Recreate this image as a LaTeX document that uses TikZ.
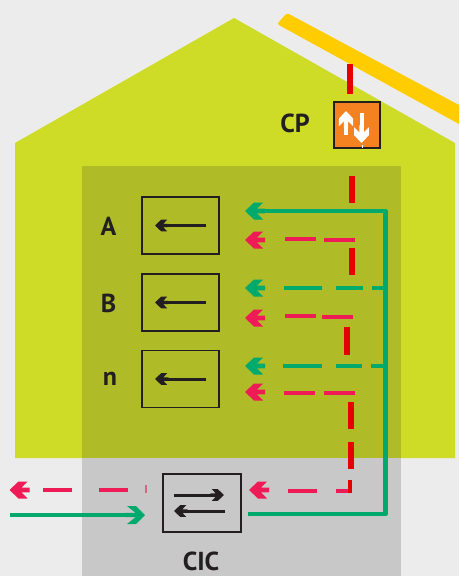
\documentclass[tikz,border=0pt]{standalone}
\usepackage{fontspec}
\setmainfont{PT Sans}
\definecolor{bgc}{HTML}{ECECEC}
\definecolor{housec}{HTML}{CEDC27}
\definecolor{olivec}{HTML}{B0BC27}
\definecolor{grayc}{HTML}{C8C8C8}
\definecolor{greenc}{HTML}{00A96C}
\definecolor{pinkc}{HTML}{EE1B57}
\definecolor{redc}{HTML}{E60000}
\definecolor{yellowc}{HTML}{FFCC00}
\definecolor{orangec}{HTML}{F58220}
\definecolor{inkc}{HTML}{231F20}
\tikzset{
  x=1pt,y=-1pt,
  unitbox/.style={draw=inkc,line width=1.3pt,inner sep=0pt,minimum width=77pt,minimum height=57pt},
  lbl/.style={text=inkc,font=\fontsize{26}{28}\selectfont\bfseries,inner sep=0pt},
  inkline/.style={draw=inkc,line width=3pt},
  whiteline/.style={draw=white,line width=4pt},
  greenline/.style={draw=greenc,line width=4.4pt},
  greendash/.style={draw=greenc,line width=4.8pt},
  pinkdash/.style={draw=pinkc,line width=4pt},
  reddash/.style={draw=redc,line width=6pt},
  pics/chev/.style={code={\fill[#1] (0,0) -- (9,-8.5) -- (18,-8.5) -- (12,-2.4) -- (20,-2.4) -- (20,2.4) -- (12,2.4) -- (18,8.5) -- (9,8.5) -- cycle;}},
  pics/barb/.style={code={\fill[#1] (0,0) -- (9,-9) -- (18,-9) -- (9.5,-2.2) -- (20,-2.2) -- (20,2.2) -- (9.5,2.2) -- (18,9) -- (9,9) -- cycle;}},
}
\newcommand\seg[4]{\coordinate (#2a) at (#3); \coordinate (#2b) at (#4); \draw[#1] (#2a) -- (#2b);}
\begin{document}
\begin{tikzpicture}
\useasboundingbox (0,0) rectangle (459,576);
% grounds
\fill[bgc] (0,0) rectangle (459,576);
\fill[housec] (15,143) -- (234,18) -- (455,143) -- (455,458) -- (15,458) -- cycle;
\fill[olivec] (82,166) rectangle (401,458);
\fill[grayc] (82,458) rectangle (401,576);
% solar bar
\fill[yellowc] (459,124) [rounded corners=2.5pt] -- (277,24) -- (287,13) [sharp corners] -- (459,105) -- cycle;
% nodes
\node[draw=inkc,fill=orangec,line width=1.3pt,inner sep=0pt,minimum size=46pt] (cp) at (357,125) {};
\node[unitbox] (boxA) at (180.5,225.5) {};
\node[unitbox] (boxB) at (180.5,302.5) {};
\node[unitbox] (boxN) at (180.5,379) {};
\node[unitbox,minimum width=78pt,minimum height=58pt] (cic) at (202,503) {};
\node[lbl] (tcp) at (295,123.5) {CP};
\node[lbl] (ta) at (108.5,226) {A};
\node[lbl] (tb) at (108.5,303) {B};
\node[lbl] (tn) at (110,379) {n};
\node[lbl] (tcic) at (201,561) {CIC};
% arrows in boxes
\foreach \b in {boxA,boxB,boxN}{
  \draw[inkline] ([xshift=25.5pt]\b.center) -- ([xshift=-20pt]\b.center);
  \path ([xshift=-25.5pt]\b.center) pic[scale=.68] {chev=inkc};
}
\coordinate (cr) at ([xshift=22pt,yshift=8pt]cic.center);
\coordinate (cl) at ([xshift=-28pt,yshift=8pt]cic.center);
\coordinate (dl) at ([xshift=-28pt,yshift=-8pt]cic.center);
\coordinate (dr) at ([xshift=23pt,yshift=-8pt]cic.center);
\draw[inkline] (cl) -- ([xshift=-5pt]cr);
\path (cr) pic[scale=.68,rotate=180] {chev=inkc};
\draw[inkline] (dr) -- ([xshift=5pt]dl);
\path (dl) pic[scale=.68] {chev=inkc};
% arrows in CP
\coordinate (upt) at (346,111);
\coordinate (upb) at (346,135);
\coordinate (dnt) at (361.5,113);
\coordinate (dnb) at (361.5,143);
\draw[whiteline] (upb) -- (346,118);
\path (upt) pic[scale=.85,rotate=-90] {chev=white};
\draw[whiteline] (dnt) -- (361.5,133);
\path (dnb) pic[scale=.88,rotate=90] {chev=white};
\draw[white,line width=.8pt] (362,145) -- (362,148);
% red segments
\seg{reddash}{ra}{350,64}{350,94}
\seg{reddash}{rb}{352,176}{352,203}
\seg{reddash}{rc}{352,248}{352,275}
\seg{reddash}{rd}{347,327}{347,355}
\seg{reddash}{re}{351,402}{351,429}
\seg{reddash}{rf}{351,442}{351,469}
% pink segments
\seg{pinkdash}{pa}{285,239}{316,239}
\seg{pinkdash}{pb}{324,240}{355,240}
\seg{pinkdash}{pc}{285,316}{316,316}
\seg{pinkdash}{pd}{322,317}{353,317}
\seg{pinkdash}{pe}{284,393}{315,393}
\seg{pinkdash}{pf}{324,393}{355,393}
\seg{pinkdash}{pg}{288,491}{317,491}
\coordinate (ph) at (336,491);
\coordinate (pk) at (350,491);
\coordinate (pl) at (350,480);
\draw[draw=pinkc,line width=4pt] (ph) -- (pk);
\draw[draw=redc,line width=4pt] (pk) ++(0,2) -- (pl);
\seg{pinkdash}{pm}{99,490}{128,490}
\seg{pinkdash}{pn}{43,490}{72,490}
\seg{draw=pinkc,line width=2pt,opacity=.6}{po}{146,485}{146,493}
% pink heads
\path (245,240) pic {chev=pinkc};
\path (245,318) pic {chev=pinkc};
\path (245,392) pic {chev=pinkc};
\path (249,490) pic {chev=pinkc};
\path (9.5,490) pic {chev=pinkc};
% green dashes
\seg{greendash}{ga}{284,288}{322,288}
\seg{greendash}{gb}{336,288}{363,288}
\seg{greendash}{gc}{372,288}{385,288}
\seg{greendash}{gd}{283,366}{322,366}
\seg{greendash}{ge}{336,366}{362,366}
\seg{greendash}{gf}{371,366}{385,366}
% green heads
\path (245,288) pic {chev=greenc};
\path (245,366) pic {chev=greenc};
% green main
\coordinate (gmain) at (248,514);
\coordinate (gcorner) at (385.5,514);
\coordinate (gtop) at (385.5,211);
\coordinate (gtip) at (245,211);
\draw[greenline,line join=round] (gmain) -- (gcorner) -- (gtop) -- (256,211);
\path (gtip) pic {chev=greenc};
\coordinate (gin) at (10,515);
\coordinate (gout) at (145,515);
\draw[greenline] (gin) -- (135,515);
\path (gout) pic[rotate=180] {barb=greenc};
\end{tikzpicture}
\end{document}
